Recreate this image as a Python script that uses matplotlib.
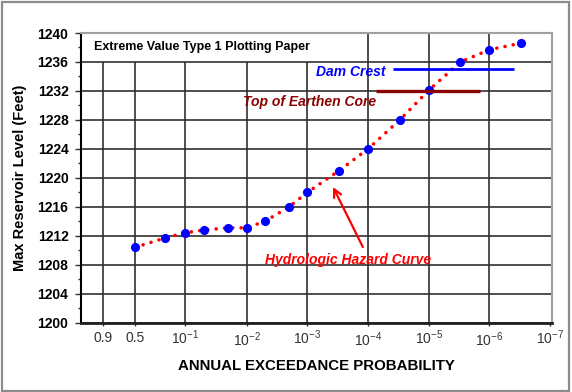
import numpy as np
import matplotlib
matplotlib.use("Agg")
import matplotlib.pyplot as plt
from matplotlib.ticker import FixedLocator, FixedFormatter, MultipleLocator
from matplotlib.patches import Rectangle
import matplotlib.transforms as mtransforms

# ---------------- data ----------------
exceed_prob = [0.5, 0.2, 0.1, 0.05, 0.02, 0.01, 0.005, 0.002,
               1e-3, 3e-4, 1e-4, 3e-5, 1e-5, 3e-6, 1e-6, 3e-7]
reservoir_level = [1210.4, 1211.7, 1212.4, 1212.8, 1213.1, 1213.1, 1214.0, 1216.0,
                   1218.0, 1221.0, 1224.0, 1228.0, 1232.1, 1236.0, 1237.7, 1238.6]

tick_probs = [0.9, 0.5, 1e-1, 1e-2, 1e-3, 1e-4, 1e-5, 1e-6, 1e-7]
tick_labels = ["0.9", "0.5",
               r"$\mathregular{10^{-1}}$", r"$\mathregular{10^{-2}}$",
               r"$\mathregular{10^{-3}}$", r"$\mathregular{10^{-4}}$",
               r"$\mathregular{10^{-5}}$", r"$\mathregular{10^{-6}}$",
               r"$\mathregular{10^{-7}}$"]
y_ticks = list(range(1200, 1241, 4))

dam_crest_level = 1235.0
dam_crest_probs = [3.85e-5, 3.9e-7]
core_level = 1232.0
core_probs = [7.5e-5, 1.43e-6]

x_limits = [9.2e-8, 0.9955]
y_limits = [1200, 1240]

# ---------------- fonts ----------------
plt.rcParams["font.family"] = ["Liberation Sans", "DejaVu Sans"]
plt.rcParams["mathtext.fontset"] = "custom"
plt.rcParams["mathtext.rm"] = "Liberation Sans"
plt.rcParams["mathtext.it"] = "Liberation Sans:italic"
plt.rcParams["mathtext.bf"] = "Liberation Sans:bold"


def gumbel(p):
    p = np.asarray(p, dtype=float)
    with np.errstate(all="ignore"):
        p = np.clip(p, 1e-300, 1 - 1e-16)
        return -np.log(-np.log1p(-p))


def gumbel_inv(u):
    u = np.asarray(u, dtype=float)
    with np.errstate(all="ignore"):
        return -np.expm1(-np.exp(-u))


W, H = 572, 392
fig = plt.figure(figsize=(W / 100, H / 100), dpi=100)
fig.patch.set_facecolor("white")

# outer frame
fig.patches.append(Rectangle((1.5 / W, 1.5 / H), 567.5 / W, 388.5 / H,
                             transform=fig.transFigure, fill=False,
                             edgecolor="#8c8c8c", linewidth=1.6))

ax = fig.add_axes([81 / W, 1 - 322.7 / H, 471.3 / W, 289.7 / H])
ax.set_xscale("function", functions=(gumbel, gumbel_inv))

# hazard curve
ax.plot(exceed_prob, reservoir_level, color="#ff0000", lw=2.6,
        linestyle=(0, (0.01, 2.3)), dash_capstyle="round", zorder=3)
ax.plot(exceed_prob, reservoir_level, linestyle="none", marker="o",
        markersize=6.6, color="#0000ff", markeredgewidth=0, zorder=4)

# dam crest / core lines
ax.plot(dam_crest_probs, [dam_crest_level] * 2, color="#0000ff", lw=2.0,
        solid_capstyle="butt", zorder=5)
ax.plot(core_probs, [core_level] * 2, color="#8b0000", lw=2.4,
        solid_capstyle="butt", zorder=5)

ax.set_xlim(*x_limits)
ax.set_ylim(*y_limits)

# grid
ax.yaxis.grid(True, color="#303030", lw=1.2)
ax.set_axisbelow(True)
for p in tick_probs[:-1]:
    top = 1236 if p >= 1e-3 else y_limits[1]
    ax.vlines(p, y_limits[0], top, color="#303030", lw=1.2, zorder=0.5)

# ticks
ax.xaxis.set_major_locator(FixedLocator(tick_probs))
ax.xaxis.set_major_formatter(FixedFormatter(tick_labels))
ax.xaxis.set_minor_locator(FixedLocator([]))
ax.tick_params(axis="x", which="major", length=2, width=1, color="#303030",
               labelsize=10, labelcolor="#333333", pad=4)
ax.set_yticks(y_ticks)
ax.yaxis.set_minor_locator(MultipleLocator(2))
ax.tick_params(axis="y", which="major", length=4, width=1, color="#303030",
               labelsize=10, pad=5)
ax.tick_params(axis="y", which="minor", length=2.2, width=1, color="#303030")
for lab in ax.get_yticklabels():
    lab.set_fontweight("bold")

# staggered x tick labels as in the reference
for i, lab in enumerate(ax.get_xticklabels()):
    dy = 0.0
    if i in (2, 4, 6, 8):
        dy = 2.2
    elif i in (3, 5, 7):
        dy = 0.3
    if dy:
        lab.set_transform(lab.get_transform() +
                          mtransforms.ScaledTranslation(0, dy / 72, fig.dpi_scale_trans))

ax.spines["left"].set_color("black")
ax.spines["left"].set_linewidth(1.5)
ax.spines["bottom"].set_color("#202020")
ax.spines["bottom"].set_linewidth(2.0)
for s in ("top", "right"):
    ax.spines[s].set_color("#a0a0a0")
    ax.spines[s].set_linewidth(1.5)

ax.set_xlabel("ANNUAL EXCEEDANCE PROBABILITY", fontsize=10.8,
              fontweight="bold", labelpad=7)
ax.set_ylabel("Max Reservoir Level (Feet)", fontsize=10.5,
              fontweight="bold", labelpad=8)

# annotations
ax.text(0.0276, 0.9527, "Extreme Value Type 1 Plotting Paper", transform=ax.transAxes,
        fontsize=9.0, fontweight="bold", va="center", ha="left", color="black")
ax.text(0.4986, 0.8664, "Dam Crest", transform=ax.transAxes, fontsize=10,
        fontweight="bold", fontstyle="italic", color="#0000ff", va="center", ha="left")
ax.text(0.3437, 0.7629, "Top of Earthen Core", transform=ax.transAxes, fontsize=10,
        fontweight="bold", fontstyle="italic", color="#8b0000", va="center", ha="left")
ax.text(0.3904, 0.2164, "Hydrologic Hazard Curve", transform=ax.transAxes, fontsize=10,
        fontweight="bold", fontstyle="italic", color="#ff0000", va="center", ha="left")
ax.annotate("", xy=(0.5347, 0.4684), xytext=(0.598, 0.2613),
            xycoords="axes fraction", textcoords="axes fraction",
            arrowprops=dict(arrowstyle="->", color="#ff0000", lw=1.6,
                            mutation_scale=14, shrinkA=0, shrinkB=0))

fig.savefig("out.png", dpi=100)
